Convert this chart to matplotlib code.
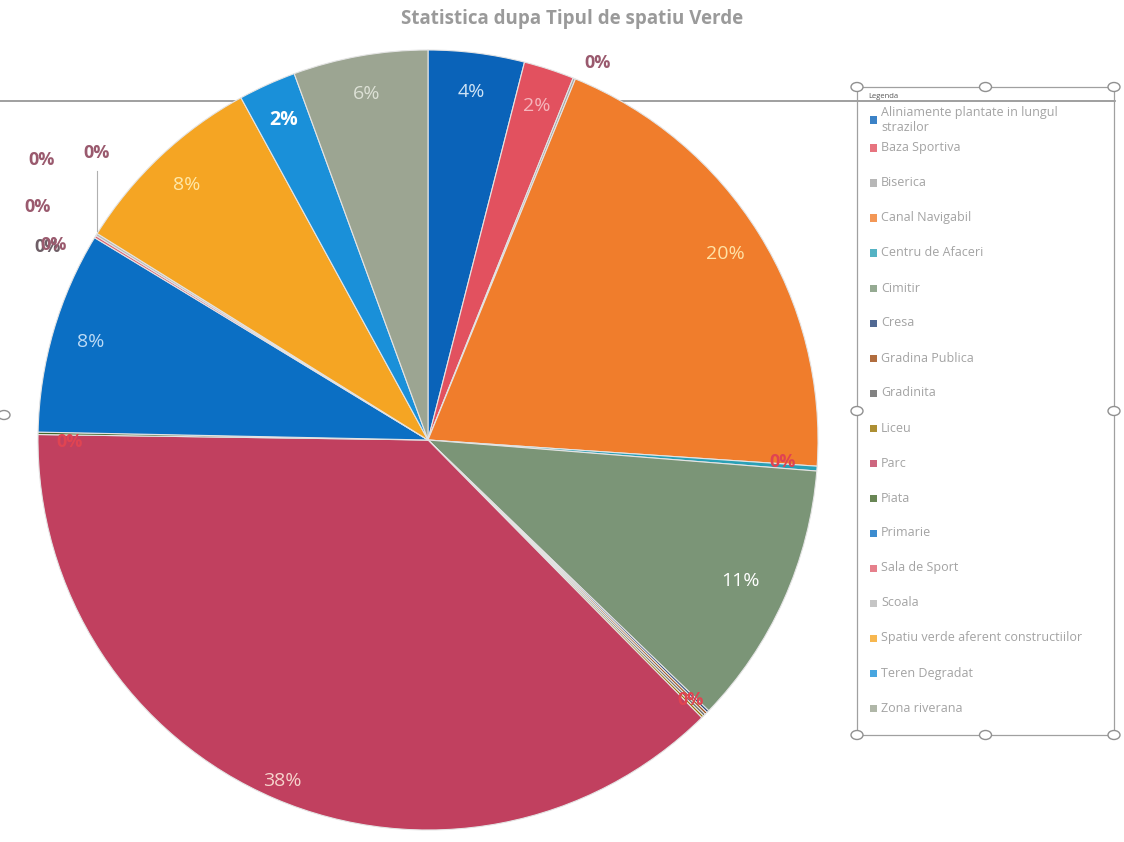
import matplotlib.pyplot as plt
from matplotlib.patches import Rectangle, Circle
from matplotlib.lines import Line2D
import numpy as np

# tipuri de spatiu verde, in ordinea din legenda
CATEGORII = ['Aliniamente plantate in lungul\nstrazilor', 'Baza Sportiva', 'Biserica',
             'Canal Navigabil', 'Centru de Afaceri', 'Cimitir', 'Cresa',
             'Gradina Publica', 'Gradinita', 'Liceu', 'Parc', 'Piata', 'Primarie',
             'Sala de Sport', 'Scoala', 'Spatiu verde aferent constructiilor',
             'Teren Degradat', 'Zona riverana']
VALORI = [4.0, 2.1, 0.1, 20.0, 0.2, 11.0, 0.1, 0.1, 0.1, 0.1, 37.8, 0.1, 8.4,
          0.1, 0.1, 8.2, 2.4, 5.6]

CULORI = ['#0a63b9', '#e2515f', '#a5a5a5', '#f07d2c', '#2aa0b6', '#7b9577',
          '#264478', '#9e480e', '#636363', '#997300', '#c1405f', '#43682b',
          '#0b6fc4', '#e06070', '#b7b7b7', '#f5a523', '#1a90d9', '#9ca592']
CULORI_TEXT = ['#cfe3f5', '#f6b5bc', '#9a5a6e', '#ffe2a6', '#e04452', '#ffffff',
               '#e04452', '#9a5a6e', '#9a5a6e', '#9a5a6e', '#f6d3cc', '#e04452',
               '#bcdaf5', '#6e5e66', '#9a5a6e', '#ffe8a8', '#ffffff', '#dde1d6']

# etichetele 0% sunt mutate de Excel in afara feliilor
POZ_ZERO = {2: (0.436, 0.967), 4: (0.91, -0.056), 6: (0.672, -0.667),
            7: (-0.99, 0.718), 8: (-1.0, 0.597), 9: (-0.85, 0.735),
            11: (-0.92, -0.005), 13: (-0.975, 0.495), 14: (-0.96, 0.5)}
# distanta etichetei fata de centru (implicit 0.9)
DIST_ETICHETA = {10: 0.95, 5: 0.88}

W, H = 1124, 842


def fx(px):
    return px / W


def fy(py):
    return 1 - py / H


def main():
    fig = plt.figure(figsize=(11.24, 8.42), dpi=100)
    plt.rcParams['font.family'] = ['Open Sans', 'DejaVu Sans']

    # linia gri din scan, in spatele graficului
    fig.add_artist(Line2D([0, fx(1115)], [fy(101), fy(101)], color='#8f8f8f',
                          lw=1.2, zorder=-5))

    cx, cy, r = 428, 440, 390
    ax = fig.add_axes([fx(cx - r), fy(cy + r), 2 * r / W, 2 * r / H])
    wedges, _ = ax.pie(VALORI, colors=CULORI, startangle=90, counterclock=False,
                       radius=1, wedgeprops=dict(edgecolor='#e4e4e4', linewidth=0.8))
    ax.set_xlim(-1, 1)
    ax.set_ylim(-1, 1)
    ax.set_aspect('auto')
    ax.axis('off')

    total = sum(VALORI)
    for i, w in enumerate(wedges):
        pct = '%d%%' % round(VALORI[i] / total * 100)
        if i in POZ_ZERO:
            x, y = POZ_ZERO[i]
            ax.text(x, y, pct, color=CULORI_TEXT[i], fontsize=13, fontweight='bold',
                    ha='center', va='center')
            continue
        ang = np.deg2rad((w.theta1 + w.theta2) / 2)
        d = DIST_ETICHETA.get(i, 0.9)
        ax.text(d * np.cos(ang), d * np.sin(ang), pct, color=CULORI_TEXT[i],
                fontsize=14, ha='center', va='center',
                fontweight='bold' if i == 16 else 'normal')

    # linie de legatura pentru eticheta 0% din stanga sus
    ax.plot([-0.849, -0.849], [0.69, 0.535], color='#b0b0b0', lw=0.8)

    fig.text(fx(572), fy(19), 'Statistica dupa Tipul de spatiu Verde',
             color='#9a9a9a', fontsize=13.5, fontweight='bold', ha='center', va='center')

    # legenda, desenata manual ca in Excel
    for i, (nume, cul) in enumerate(zip(CATEGORII, CULORI)):
        if i == 0:
            y = 120
        else:
            y = 148 + 35 * (i - 1)
        fig.add_artist(Rectangle((fx(870), fy(y + 3.5)), 7 / W, 7 / H,
                                 facecolor=cul, edgecolor='none', alpha=0.8))
        fig.text(fx(881), fy(y), nume, color='#a3a3a3', fontsize=9, va='center',
                 ha='left', linespacing=1.25)
    fig.text(fx(868), fy(97), 'Legenda', color='#555555', fontsize=5.5, va='center')

    x0, y0, x1, y1 = 857, 87, 1114, 735
    fig.add_artist(Rectangle((fx(x0), fy(y1)), fx(x1) - fx(x0), fy(y0) - fy(y1),
                             fill=False, edgecolor='#a0a0a0', lw=0.9))
    for (px, py) in [(x0, y0), ((x0 + x1) / 2, y0), (x1, y0), (x0, (y0 + y1) / 2),
                     (x1, (y0 + y1) / 2), (x0, y1), ((x0 + x1) / 2, y1), (x1, y1), (4, 415)]:
        fig.add_artist(Circle((fx(px), fy(py)), 6 / W, transform=fig.transFigure,
                              facecolor='white', edgecolor='#909090', lw=1.0))

    fig.savefig('out.png', dpi=100)


if __name__ == '__main__':
    main()
